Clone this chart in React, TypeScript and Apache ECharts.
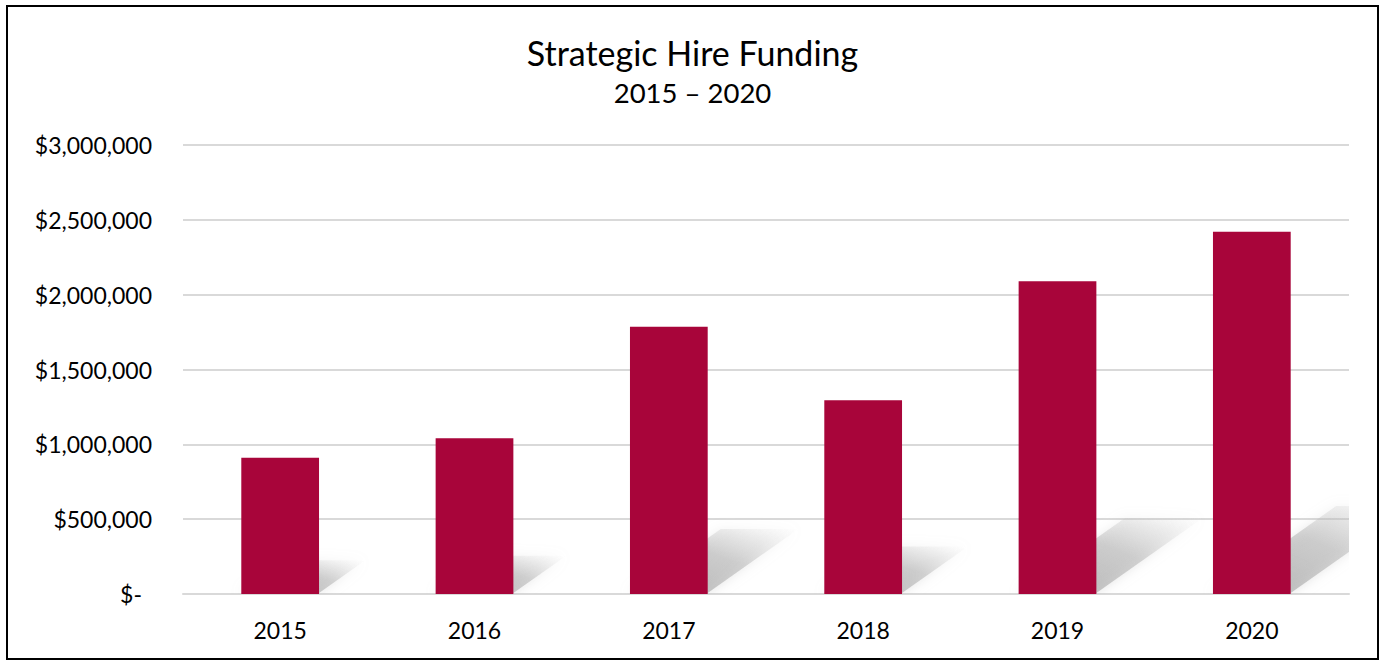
import React, { useEffect, useRef } from "react";
import * as echarts from "echarts";

const years = ["2015", "2016", "2017", "2018", "2019", "2020"];
const funding = [910000, 1040000, 1785000, 1295000, 2090000, 2420000];
const yTicks = [0, 500000, 1000000, 1500000, 2000000, 2500000, 3000000];

const FONT = "Lato, 'Open Sans', sans-serif";

function fmt(v: number): string {
  if (v === 0) return "{z|$-}";
  return "$" + v.toLocaleString("en-US");
}

export default function App() {
  const ref = useRef<HTMLDivElement>(null);
  useEffect(() => {
    document.body.style.margin = "0";
    const chart = echarts.init(ref.current!, null, { renderer: "svg" });
    chart.setOption({
      animation: false,
      backgroundColor: "#ffffff",
      title: {
        text: "Strategic Hire Funding",
        subtext: "2015 – 2020",
        left: "center",
        top: 30,
        itemGap: 9,
        textStyle: { fontFamily: FONT, fontSize: 34, fontWeight: "normal", color: "#000" },
        subtextStyle: { fontFamily: FONT, fontSize: 27.5, color: "#000" },
      },
      graphic: [
        {
          type: "rect",
          shape: { x: 7, y: 6, width: 1371, height: 653 },
          style: { fill: "none", stroke: "#000", lineWidth: 2 },
          silent: true,
          z: 100,
        },
      ],
      grid: { left: 183, right: 36, top: 145, bottom: 66, containLabel: false },
      xAxis: {
        type: "category",
        data: years,
        axisLine: { show: true, lineStyle: { color: "#d9d9d9", width: 2 } },
        axisTick: { show: false },
        axisLabel: { fontFamily: FONT, fontSize: 23, color: "#000", margin: 24 },
      },
      yAxis: {
        type: "value",
        min: yTicks[0],
        max: yTicks[yTicks.length - 1],
        interval: 500000,
        axisLine: { show: false },
        axisTick: { show: false },
        splitLine: { lineStyle: { color: "#d9d9d9", width: 2 } },
        axisLabel: {
          fontFamily: FONT,
          fontSize: 23,
          color: "#000",
          margin: 31,
          formatter: fmt,
          rich: { z: { fontFamily: FONT, fontSize: 23, color: "#000", padding: [0, 10, 0, 0] } },
        },
      },
      series: [
        {
          type: "custom",
          clip: true,
          z: 1,
          data: funding.map((v, i) => [i, v]),
          renderItem: (params: any, api: any) => {
            const idx = api.value(0);
            const val = api.value(1);
            const base = api.coord([idx, 0]);
            const top = api.coord([idx, val]);
            const h = base[1] - top[1];
            const bw = api.size([1, 0])[0] * 0.4;
            const x0 = base[0] - bw / 2;
            const x1 = base[0] + bw / 2;
            const dx = h * 0.34;
            const dy = h * 0.24;
            const y0 = base[1] - 1;
            return {
              type: "polygon",
              shape: {
                points: [
                  [x0, y0],
                  [x1, y0],
                  [x1 + dx, y0 - dy],
                  [x0 + dx, y0 - dy],
                ],
              },
              style: {
                fill: new echarts.graphic.LinearGradient(0, 1, 1, 0, [
                  { offset: 0, color: "rgba(160,160,160,0.7)" },
                  { offset: 0.55, color: "rgba(175,175,175,0.5)" },
                  { offset: 1, color: "rgba(210,210,210,0.0)" },
                ]),
                shadowBlur: 12,
                shadowColor: "rgba(180,180,180,0.6)",
              },
            };
          },
        },
        {
          type: "bar",
          data: funding,
          barWidth: "40%",
          z: 3,
          itemStyle: { color: "#A8053A" },
        },
      ],
    });
    return () => chart.dispose();
  }, []);
  return <div ref={ref} style={{ width: 1385, height: 660 }} />;
}
